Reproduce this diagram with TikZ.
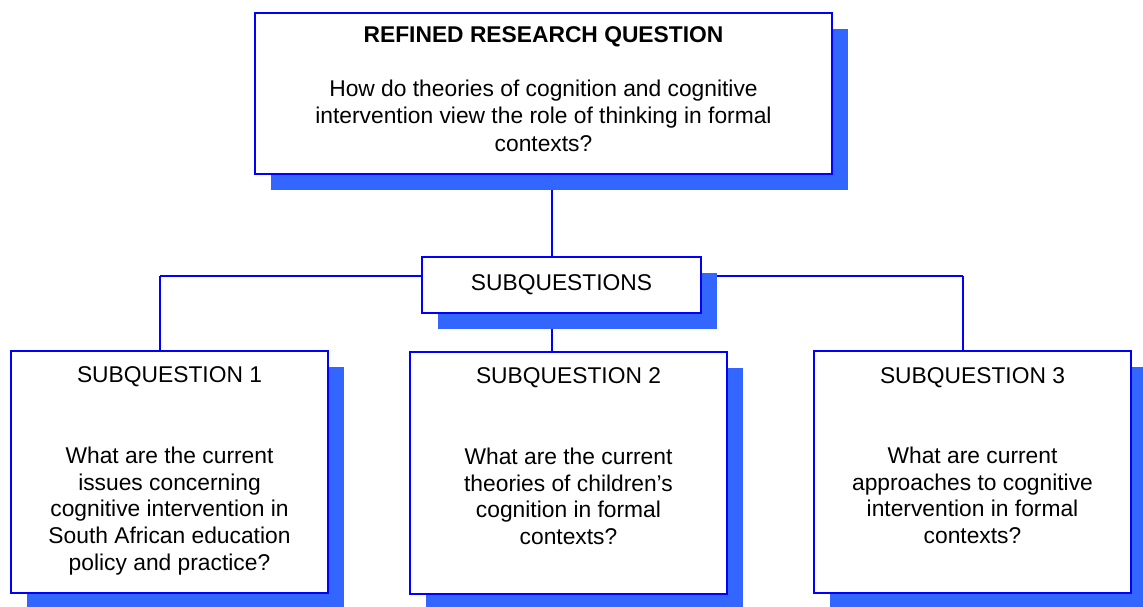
\documentclass[tikz,border=0pt]{standalone}
\usepackage{fontspec}
\setmainfont{Liberation Sans}
\usetikzlibrary{shadows,backgrounds}
\definecolor{shadowblue}{RGB}{51,102,255}
\definecolor{lineblue}{RGB}{0,0,255}
\tikzset{
  qbox/.style={draw=lineblue, fill=white, line width=2pt, inner sep=0pt,
    drop shadow={shadow xshift=16pt, shadow yshift=-16pt, fill=shadowblue, opacity=1}},
  conn/.style={draw=lineblue, line width=2pt},
  qtxt/.style={anchor=base, align=center, inner sep=0pt, font=\fontsize{22.8}{26.7}\selectfont},
}
\begin{document}
\begin{tikzpicture}[x=1pt, y=-1pt]
\useasboundingbox (0,0) rectangle (1143,606);
% boxes
\node[qbox, minimum width=577pt, minimum height=161pt] (top) at (543.5,93.5) {};
\node[qbox, minimum width=279pt, minimum height=56pt] (subq) at (561.5,285) {};
\node[qbox, minimum width=317pt, minimum height=242pt] (sub1) at (169.5,472) {};
\node[qbox, minimum width=317pt, minimum height=242pt] (sub2) at (568.5,473) {};
\node[qbox, minimum width=317pt, minimum height=242pt] (sub3) at (972.5,472) {};
% texts (base anchor = baseline of the last line)
\node[qtxt, font=\fontsize{22.8}{27.2}\selectfont\bfseries] (toptitle) at (543.5,42.7) {REFINED RESEARCH QUESTION};
\node[qtxt, font=\fontsize{22.8}{27.2}\selectfont] (topbody) at (543.5,151.1) {How do theories of cognition and cognitive\\intervention view the role of thinking in formal\\contexts?};
\node[qtxt] (subqtxt) at (561.5,290) {SUBQUESTIONS};
\node[qtxt] (s1title) at (169.5,382.7) {SUBQUESTION 1};
\node[qtxt] (s1body) at (169.5,570.1) {What are the current\\issues concerning\\cognitive intervention in\\South African education\\policy and practice?};
\node[qtxt] (s2title) at (568.5,383) {SUBQUESTION 2};
\node[qtxt] (s2body) at (568.5,544.6) {What are the current\\theories of children’s\\cognition in formal\\contexts?};
\node[qtxt] (s3title) at (972.5,383) {SUBQUESTION 3};
\node[qtxt] (s3body) at (972.5,543.4) {What are current\\approaches to cognitive\\intervention in formal\\contexts?};
% connectors
\coordinate (jl) at (160,276);
\coordinate (jc) at (552,276);
\coordinate (jr) at (963,276);
\begin{scope}[on background layer]
\draw[conn] (jc |- top.south) -- (jc |- subq.north);
\draw[conn] (jl) -- (jr);
\draw[conn] (jl) -- (jl |- sub1.north);
\draw[conn] (jr) -- (jr |- sub3.north);
\draw[conn] (jc |- subq.south) -- (jc |- sub2.north);
\end{scope}
\end{tikzpicture}
\end{document}
